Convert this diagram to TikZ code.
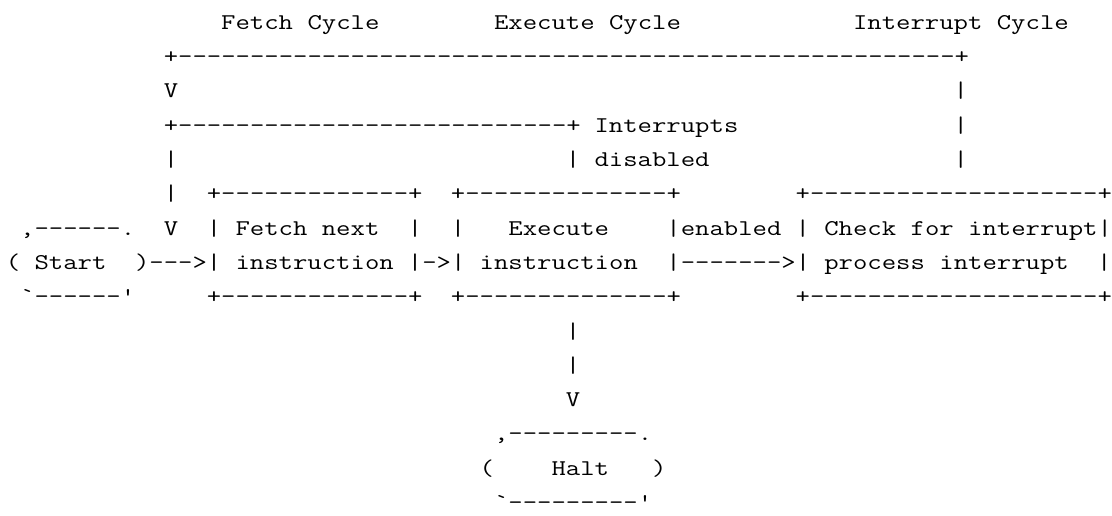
\documentclass[tikz,border=0pt]{standalone}
\tikzset{
  asc/.style={font=\fontsize{22.5}{27}\ttfamily\frenchspacing,
    text=black, inner sep=0pt, outer sep=0pt, anchor=base west, transform shape}
}
\def\XS{1.2410}
% column c, row r -> cell left edge / baseline (in pt, before x-scaling)
\newcommand\asg[4]{\node[asc] (#1) at ({(5.82+14.36*(#2))/\XS},{-(29.3+34.3*(#3))}) {#4};}
\begin{document}
\begin{tikzpicture}[x=1pt,y=1pt]
\useasboundingbox (0,0) rectangle (1112,-515);
\begin{scope}[xscale=\XS]
% row 0: titles
\asg{tfetch}{15}{0}{Fetch Cycle}
\asg{texec}{34}{0}{Execute Cycle}
\asg{tint}{59}{0}{Interrupt Cycle}
% row 1
\asg{r1}{11}{1}{+------------------------------------------------------+}
% row 2
\asg{r2a}{11}{2}{V}
\asg{r2b}{66}{2}{|}
% row 3
\asg{r3a}{11}{3}{+---------------------------+}
\asg{r3b}{41}{3}{Interrupts}
\asg{r3c}{66}{3}{|}
% row 4
\asg{r4a}{11}{4}{|}
\asg{r4b}{39}{4}{|}
\asg{r4c}{41}{4}{disabled}
\asg{r4d}{66}{4}{|}
% row 5
\asg{r5a}{11}{5}{|}
\asg{r5b}{14}{5}{+-------------+}
\asg{r5c}{31}{5}{+--------------+}
\asg{r5d}{55}{5}{+--------------------+}
% row 6
\asg{r6a}{1}{6}{,------.}
\asg{r6b}{11}{6}{V}
\asg{r6c}{14}{6}{|}
\asg{r6d}{16}{6}{Fetch next}
\asg{r6e}{28}{6}{|}
\asg{r6f}{31}{6}{|}
\asg{r6g}{35}{6}{Execute}
\asg{r6h}{46}{6}{|enabled}
\asg{r6i}{55}{6}{|}
\asg{r6j}{57}{6}{Check for interrupt|}
% row 7
\asg{r7a}{0}{7}{(}
\asg{r7b}{2}{7}{Start}
\asg{r7c}{9}{7}{)--->|}
\asg{r7d}{16}{7}{instruction}
\asg{r7e}{28}{7}{|->|}
\asg{r7f}{33}{7}{instruction}
\asg{r7g}{46}{7}{|------->|}
\asg{r7h}{57}{7}{process interrupt}
\asg{r7i}{76}{7}{|}
% row 8
\asg{r8a}{1}{8}{`------'}
\asg{r8b}{14}{8}{+-------------+}
\asg{r8c}{31}{8}{+--------------+}
\asg{r8d}{55}{8}{+--------------------+}
% rows 9-11
\asg{r9}{39}{9}{|}
\asg{r10}{39}{10}{|}
\asg{r11}{39}{11}{V}
% Halt
\asg{r12}{34}{12}{,---------.}
\asg{r13a}{33}{13}{(}
\asg{r13b}{38}{13}{Halt}
\asg{r13c}{45}{13}{)}
\asg{r14}{34}{14}{`---------'}
\end{scope}
\end{tikzpicture}
\end{document}
